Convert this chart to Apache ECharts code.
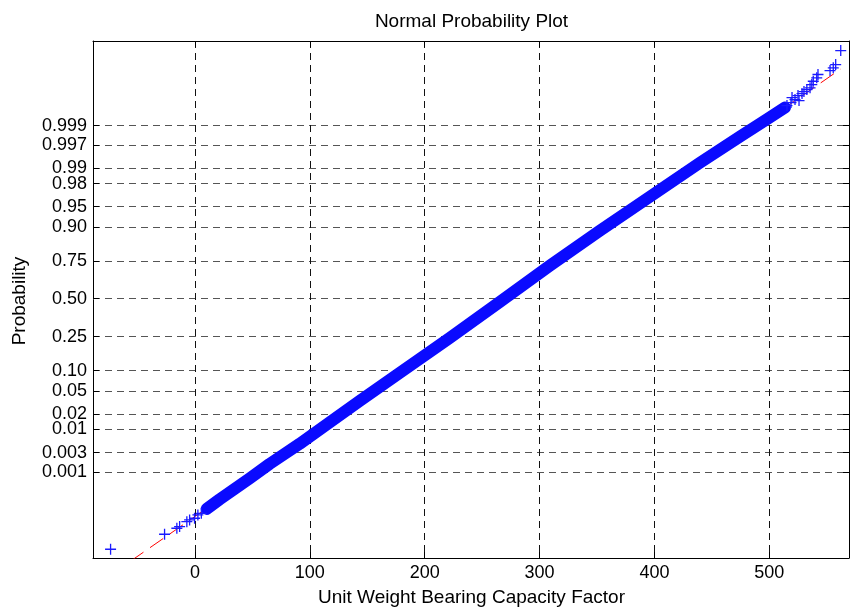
<!DOCTYPE html>
<html><head><meta charset="utf-8">
<script src="https://cdn.jsdelivr.net/npm/echarts@6/dist/echarts.min.js"></script>
<style>html,body{margin:0;padding:0;background:#fff}#c{width:853px;height:611px}</style>
</head><body><div id="c"></div>
<script>
// ---- data ----
// y axis probability ticks (labels as printed)
const probTickLabels = ['0.001','0.003','0.01','0.02','0.05','0.10','0.25','0.50','0.75','0.90','0.95','0.98','0.99','0.997','0.999'];
const xTickValues = [0, 100, 200, 300, 400, 500];
const xRange = [-88.7, 569.4];
const quantileRange = [-4.627, 4.600];

// dense central band of the sample (value, standard normal quantile of plotting position)
const bandValues    = [10.3, 21.5, 34.6, 47.7, 65.1, 91.2, 117.3, 143.5, 178.3, 221.9, 265.5, 309.0, 352.6, 396.2, 439.8, 474.6, 496.3, 513.7];
const bandQuantiles = [-3.751, -3.582, -3.394, -3.207, -2.947, -2.590, -2.206, -1.822, -1.322, -0.697, -0.054, 0.589, 1.215, 1.822, 2.429, 2.894, 3.180, 3.412];

// individual points in the lower tail
const lowerTailValues    = [-73.4, -26.4, -15.7, -13.3, -7.0, -4.6, -0.3, 2.6, 5.6];
const lowerTailQuantiles = [-4.471, -4.203, -4.096, -4.067, -3.978, -3.948, -3.918, -3.859, -3.830];

// individual points in the upper tail
const upperTailValues    = [515.4, 518.9, 519.8, 522.4, 525.0, 525.9, 528.5, 530.2, 532.7, 535.5, 537.0, 538.3, 541.3, 542.4, 552.9, 555.7, 557.8, 562.2];
const upperTailQuantiles = [3.448, 3.501, 3.591, 3.555, 3.626, 3.537, 3.662, 3.698, 3.733, 3.764, 3.823, 3.882, 3.942, 4.002, 4.073, 4.121, 4.180, 4.430];

// red dashed reference line (end points)
const fitLineValues    = [-73.4, 562.2];
const fitLineQuantiles = [-4.93, 4.10];

// ---- probability scale helper (inverse standard normal CDF) ----
function norminv(p){
  const a=[-3.969683028665376e+01,2.209460984245205e+02,-2.759285104469687e+02,1.383577518672690e+02,-3.066479806614716e+01,2.506628277459239e+00];
  const b=[-5.447609879822406e+01,1.615858368580409e+02,-1.556989798598866e+02,6.680131188771972e+01,-1.328068155288572e+01];
  const c=[-7.784894002430293e-03,-3.223964580411365e-01,-2.400758277161838e+00,-2.549732539343734e+00,4.374664141464968e+00,2.938163982698783e+00];
  const d=[7.784695709041462e-03,3.224671290700398e-01,2.445134137142996e+00,3.754408661907416e+00];
  const pl=0.02425, ph=1-pl; let q,r;
  if(p<pl){q=Math.sqrt(-2*Math.log(p));return (((((c[0]*q+c[1])*q+c[2])*q+c[3])*q+c[4])*q+c[5])/((((d[0]*q+d[1])*q+d[2])*q+d[3])*q+1);}
  if(p>ph){q=Math.sqrt(-2*Math.log(1-p));return -(((((c[0]*q+c[1])*q+c[2])*q+c[3])*q+c[4])*q+c[5])/((((d[0]*q+d[1])*q+d[2])*q+d[3])*q+1);}
  q=p-0.5;r=q*q;return (((((a[0]*r+a[1])*r+a[2])*r+a[3])*r+a[4])*r+a[5])*q/(((((b[0]*r+b[1])*r+b[2])*r+b[3])*r+b[4])*r+1);
}
const yTickValues = probTickLabels.map(s => norminv(parseFloat(s)));
function probLabel(v){
  for (let i=0;i<yTickValues.length;i++) if (Math.abs(yTickValues[i]-v)<1e-6) return probTickLabels[i];
  return '';
}
const zip = (xs, ys) => xs.map((x,i)=>[x, ys[i]]);

const FONT = 'Liberation Sans, Arial, Helvetica, sans-serif';
const plusPath = 'path://M0,5L10,5M5,0L5,10';

const chart = echarts.init(document.getElementById('c'), null, {renderer:'canvas'});
chart.setOption({
  animation:false,
  backgroundColor:'#ffffff',
  grid:{left:93, right:4, top:41, bottom:53, containLabel:false},
  xAxis:[{
    type:'value', position:'bottom', min:xRange[0], max:xRange[1],
    axisLine:{show:true, onZero:false, lineStyle:{color:'#000', width:1}},
    axisTick:{show:true, inside:true, length:6, customValues:xTickValues, lineStyle:{color:'#000'}},
    axisLabel:{show:true, customValues:xTickValues, margin:6, color:'#000', fontSize:18, fontFamily:FONT},
    splitLine:{show:true, lineStyle:{color:'#111', width:1, type:[7,5]}}
  },{
    type:'value', position:'top', min:xRange[0], max:xRange[1],
    axisLine:{show:true, onZero:false, lineStyle:{color:'#000', width:1}},
    axisTick:{show:true, inside:true, length:6, customValues:xTickValues, lineStyle:{color:'#000'}},
    axisLabel:{show:false}, splitLine:{show:false}
  }],
  yAxis:[{
    type:'value', position:'left', min:quantileRange[0], max:quantileRange[1],
    axisLine:{show:true, onZero:false, lineStyle:{color:'#000', width:1}},
    axisTick:{show:true, inside:true, length:6, customValues:yTickValues, lineStyle:{color:'#000'}},
    axisLabel:{show:true, customValues:yTickValues, formatter:probLabel, margin:6, color:'#000', fontSize:18, fontFamily:FONT},
    splitLine:{show:true, lineStyle:{color:'#555', width:1, type:[7,5]}}
  },{
    type:'value', position:'right', min:quantileRange[0], max:quantileRange[1],
    axisLine:{show:true, onZero:false, lineStyle:{color:'#000', width:1}},
    axisTick:{show:true, inside:true, length:6, customValues:yTickValues, lineStyle:{color:'#000'}},
    axisLabel:{show:false}, splitLine:{show:false}
  }],
  series:[
    {type:'line', xAxisIndex:0, yAxisIndex:0, data:zip(fitLineValues, fitLineQuantiles), showSymbol:false, symbol:'none',
     lineStyle:{color:'#ff0000', width:1, type:[16,8]}, z:1, clip:true, silent:true},
    {type:'line', xAxisIndex:0, yAxisIndex:0, data:zip(bandValues, bandQuantiles), showSymbol:false, symbol:'none',
     lineStyle:{color:'#0a0aff', width:12, cap:'round', join:'round'}, z:2, clip:true, silent:true},
    {type:'scatter', xAxisIndex:0, yAxisIndex:0, data:zip(lowerTailValues, lowerTailQuantiles).concat(zip(upperTailValues, upperTailQuantiles)),
     symbol:plusPath, symbolSize:11, itemStyle:{color:'none', borderColor:'#1a1aff', borderWidth:1.3, opacity:1}, z:3, clip:true, silent:true}
  ],
  graphic:[
    {type:'text', x:471.5, y:21.5, style:{text:'Normal Probability Plot', font:'19px '+FONT, fill:'#000', align:'center', verticalAlign:'middle'}},
    {type:'text', x:471.5, y:598, style:{text:'Unit Weight Bearing Capacity Factor', font:'19px '+FONT, fill:'#000', align:'center', verticalAlign:'middle'}},
    {type:'text', x:19.5, y:301, rotation:Math.PI/2, style:{text:'Probability', font:'19px '+FONT, fill:'#000', align:'center', verticalAlign:'middle'}}
  ]
});
</script>
</body></html>
